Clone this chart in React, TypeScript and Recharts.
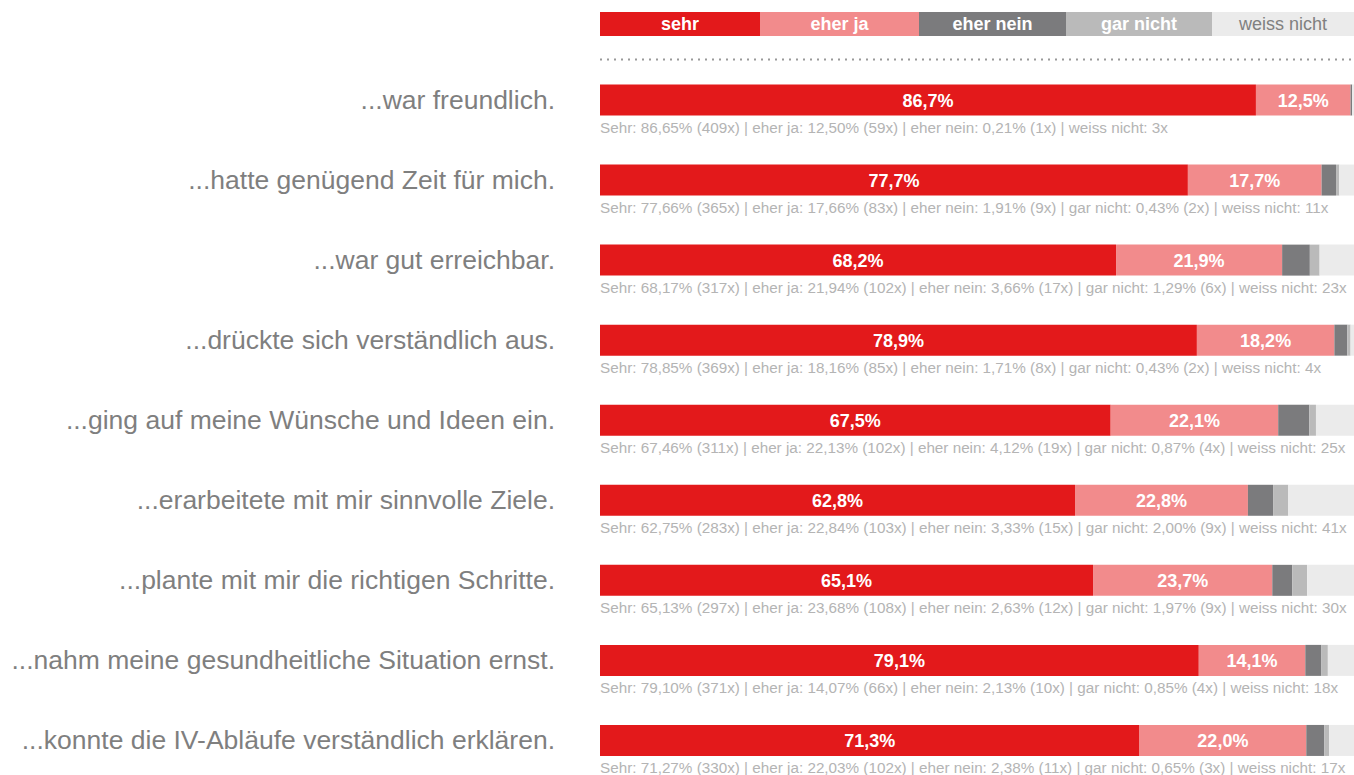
import { BarChart, Bar, XAxis, YAxis, LabelList } from "recharts";

const statements = [
  "...war freundlich.",
  "...hatte genügend Zeit für mich.",
  "...war gut erreichbar.",
  "...drückte sich verständlich aus.",
  "...ging auf meine Wünsche und Ideen ein.",
  "...erarbeitete mit mir sinnvolle Ziele.",
  "...plante mit mir die richtigen Schritte.",
  "...nahm meine gesundheitliche Situation ernst.",
  "...konnte die IV-Abläufe verständlich erklären.",
];

// percentages of all answers (incl. "weiss nicht")
const sehr = [86.65, 77.66, 68.17, 78.85, 67.46, 62.75, 65.13, 79.1, 71.27];
const eherJa = [12.5, 17.66, 21.94, 18.16, 22.13, 22.84, 23.68, 14.07, 22.03];
const eherNein = [0.21, 1.91, 3.66, 1.71, 4.12, 3.33, 2.63, 2.13, 2.38];
const garNicht = [0, 0.43, 1.29, 0.43, 0.87, 2.0, 1.97, 0.85, 0.65];
const weissNicht = [0.64, 2.34, 4.94, 0.85, 5.42, 9.08, 6.59, 3.85, 3.67];

// answer counts
const sehrN = [409, 365, 317, 369, 311, 283, 297, 371, 330];
const eherJaN = [59, 83, 102, 85, 102, 103, 108, 66, 102];
const eherNeinN = [1, 9, 17, 8, 19, 15, 12, 10, 11];
const garNichtN = [0, 2, 6, 2, 4, 9, 9, 4, 3];
const weissNichtN = [3, 11, 23, 4, 25, 41, 30, 18, 17];

const legendItems = [
  { name: "sehr", color: "#e3191b", text: "#ffffff", bold: true, width: 160 },
  { name: "eher ja", color: "#f28b8c", text: "#ffffff", bold: true, width: 159 },
  { name: "eher nein", color: "#7b7b7d", text: "#ffffff", bold: true, width: 147 },
  { name: "gar nicht", color: "#bababa", text: "#ffffff", bold: true, width: 146 },
  { name: "weiss nicht", color: "#ebebeb", text: "#808080", bold: false, width: 142 },
];

const fmt = (v: number, d: number) => {
  const p = Math.pow(10, d);
  return (Math.round(v * p + 1e-6) / p).toFixed(d).replace(".", ",");
};

const data = statements.map((label, i) => {
  const parts = [`Sehr: ${fmt(sehr[i], 2)}% (${sehrN[i]}x)`];
  if (eherJaN[i]) parts.push(`eher ja: ${fmt(eherJa[i], 2)}% (${eherJaN[i]}x)`);
  if (eherNeinN[i]) parts.push(`eher nein: ${fmt(eherNein[i], 2)}% (${eherNeinN[i]}x)`);
  if (garNichtN[i]) parts.push(`gar nicht: ${fmt(garNicht[i], 2)}% (${garNichtN[i]}x)`);
  parts.push(`weiss nicht: ${weissNichtN[i]}x`);
  return {
    label,
    sehr: sehr[i],
    eherJa: eherJa[i],
    eherNein: eherNein[i],
    garNicht: garNicht[i],
    weissNicht: weissNicht[i],
    caption: parts.join(" | "),
  };
});

const font = "'Liberation Sans', Arial, sans-serif";

const RowTick = (props: any) => {
  const { x, y, payload } = props;
  return (
    <text x={x - 37} y={y + 9} textAnchor="end" fontSize={26.5} fill="#7f7f7f" fontFamily={font}>
      {payload.value}
    </text>
  );
};

const PercentLabel = (props: any) => {
  const { x, y, width, height, value } = props;
  return (
    <text
      x={x + width / 2}
      y={y + height / 2 + 7}
      textAnchor="middle"
      fontSize={18}
      fontWeight="bold"
      fill="#ffffff"
      fontFamily={font}
    >
      {fmt(value, 1)}%
    </text>
  );
};

const Caption = (props: any) => {
  const { x, y, height, value } = props;
  return (
    <text x={x} y={y + height + 17} fontSize={15.25} fill="#b4b4b4" fontFamily={font}>
      {value}
    </text>
  );
};

export default function App() {
  return (
    <div style={{ position: "absolute", left: 0, top: 0, width: 1354, height: 775, overflow: "hidden", fontFamily: font }}>
      <div style={{ position: "absolute", left: 600, top: 12, display: "flex", height: 24 }}>
        {legendItems.map((it) => (
          <div
            key={it.name}
            style={{
              width: it.width,
              background: it.color,
              color: it.text,
              fontWeight: it.bold ? "bold" : "normal",
              fontSize: 18,
              lineHeight: "25px",
              height: 24,
              textAlign: "center",
            }}
          >
            {it.name}
          </div>
        ))}
      </div>
      <BarChart
        width={1357}
        height={780}
        data={data}
        layout="vertical"
        margin={{ top: 29.5, right: 0, bottom: 0, left: 0 }}
      >
        <XAxis
          type="number"
          domain={[0, 100]}
          allowDataOverflow
          orientation="top"
          height={30}
          tick={false}
          tickLine={false}
          axisLine={{ stroke: "#999999", strokeWidth: 2, strokeDasharray: "2 5" }}
        />
        <YAxis
          type="category"
          dataKey="label"
          width={600}
          axisLine={false}
          tickLine={false}
          tick={<RowTick />}
        />
        <Bar dataKey="sehr" stackId="a" fill="#e3191b" barSize={31} isAnimationActive={false}>
          <LabelList dataKey="sehr" content={<PercentLabel />} />
          <LabelList dataKey="caption" content={<Caption />} />
        </Bar>
        <Bar dataKey="eherJa" stackId="a" fill="#f28b8c" barSize={31} isAnimationActive={false}>
          <LabelList dataKey="eherJa" content={<PercentLabel />} />
        </Bar>
        <Bar dataKey="eherNein" stackId="a" fill="#7b7b7d" barSize={31} isAnimationActive={false} />
        <Bar dataKey="garNicht" stackId="a" fill="#bababa" barSize={31} isAnimationActive={false} />
        <Bar dataKey="weissNicht" stackId="a" fill="#ebebeb" barSize={31} isAnimationActive={false} />
      </BarChart>
    </div>
  );
}
